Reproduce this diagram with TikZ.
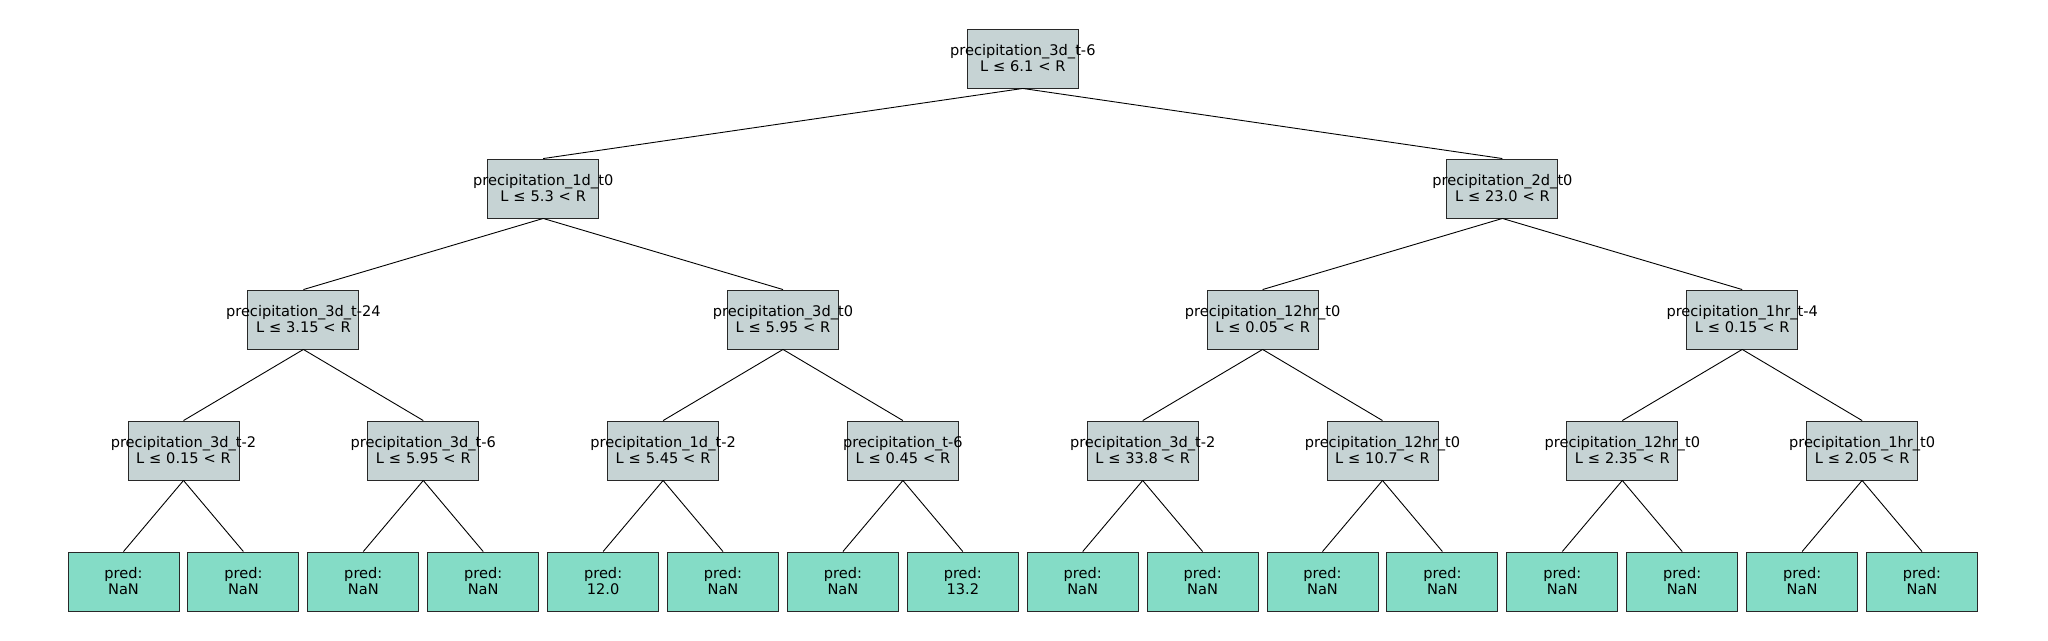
\documentclass[tikz,border=0pt]{standalone}
\usepackage{fontspec}
\setmainfont{DejaVu Sans}
\definecolor{splitc}{RGB}{198,211,212}
\definecolor{leafc}{RGB}{132,220,198}
\definecolor{edgec}{RGB}{40,40,40}
\tikzset{
  splitbox/.style={draw=edgec, fill=splitc, line width=0.9pt, minimum width=111pt, minimum height=59pt, inner sep=0pt, align=center, text width=111pt, font=\fontsize{14.6}{16}\selectfont},
  leafbox/.style={draw=edgec, fill=leafc, line width=0.9pt, minimum width=111pt, minimum height=59pt, inner sep=0pt, align=center, text width=111pt, font=\fontsize{14.6}{16}\selectfont},
  link/.style={draw=black, line width=0.9pt}
}
\newcommand{\spl}[2]{\makebox[0pt][c]{#1}\\#2}
\begin{document}
\begin{tikzpicture}[x=1pt,y=-1pt]
\useasboundingbox[fill=white] (0,0) rectangle (2048,640);
% root
\node[splitbox] (r) at (1022.8,58.5) {\spl{precipitation\_3d\_t-6}{L ≤ 6.1 < R}};
% level 1
\node[splitbox] (a0) at (543.2,188.5) {\spl{precipitation\_1d\_t0}{L ≤ 5.3 < R}};
\node[splitbox] (a1) at (1502.4,188.5) {\spl{precipitation\_2d\_t0}{L ≤ 23.0 < R}};
% level 2
\node[splitbox] (b0) at (303.4,319.5) {\spl{precipitation\_3d\_t-24}{L ≤ 3.15 < R}};
\node[splitbox] (b1) at (783.0,319.5) {\spl{precipitation\_3d\_t0}{L ≤ 5.95 < R}};
\node[splitbox] (b2) at (1262.6,319.5) {\spl{precipitation\_12hr\_t0}{L ≤ 0.05 < R}};
\node[splitbox] (b3) at (1742.2,319.5) {\spl{precipitation\_1hr\_t-4}{L ≤ 0.15 < R}};
% level 3
\node[splitbox] (c0) at (183.5,450.5) {\spl{precipitation\_3d\_t-2}{L ≤ 0.15 < R}};
\node[splitbox] (c1) at (423.3,450.5) {\spl{precipitation\_3d\_t-6}{L ≤ 5.95 < R}};
\node[splitbox] (c2) at (663.1,450.5) {\spl{precipitation\_1d\_t-2}{L ≤ 5.45 < R}};
\node[splitbox] (c3) at (902.9,450.5) {\spl{precipitation\_t-6}{L ≤ 0.45 < R}};
\node[splitbox] (c4) at (1142.7,450.5) {\spl{precipitation\_3d\_t-2}{L ≤ 33.8 < R}};
\node[splitbox] (c5) at (1382.5,450.5) {\spl{precipitation\_12hr\_t0}{L ≤ 10.7 < R}};
\node[splitbox] (c6) at (1622.3,450.5) {\spl{precipitation\_12hr\_t0}{L ≤ 2.35 < R}};
\node[splitbox] (c7) at (1862.1,450.5) {\spl{precipitation\_1hr\_t0}{L ≤ 2.05 < R}};
% leaves
\node[leafbox] (d0) at (123.5,581.5) {pred:\\NaN};
\node[leafbox] (d1) at (243.4,581.5) {pred:\\NaN};
\node[leafbox] (d2) at (363.3,581.5) {pred:\\NaN};
\node[leafbox] (d3) at (483.2,581.5) {pred:\\NaN};
\node[leafbox] (d4) at (603.1,581.5) {pred:\\12.0};
\node[leafbox] (d5) at (723.0,581.5) {pred:\\NaN};
\node[leafbox] (d6) at (842.9,581.5) {pred:\\NaN};
\node[leafbox] (d7) at (962.8,581.5) {pred:\\13.2};
\node[leafbox] (d8) at (1082.7,581.5) {pred:\\NaN};
\node[leafbox] (d9) at (1202.6,581.5) {pred:\\NaN};
\node[leafbox] (d10) at (1322.5,581.5) {pred:\\NaN};
\node[leafbox] (d11) at (1442.4,581.5) {pred:\\NaN};
\node[leafbox] (d12) at (1562.3,581.5) {pred:\\NaN};
\node[leafbox] (d13) at (1682.2,581.5) {pred:\\NaN};
\node[leafbox] (d14) at (1802.1,581.5) {pred:\\NaN};
\node[leafbox] (d15) at (1922.0,581.5) {pred:\\NaN};
% connectors
\draw[link] (r.south) -- (a0.north);
\draw[link] (r.south) -- (a1.north);
\draw[link] (a0.south) -- (b0.north);
\draw[link] (a0.south) -- (b1.north);
\draw[link] (a1.south) -- (b2.north);
\draw[link] (a1.south) -- (b3.north);
\draw[link] (b0.south) -- (c0.north);
\draw[link] (b0.south) -- (c1.north);
\draw[link] (b1.south) -- (c2.north);
\draw[link] (b1.south) -- (c3.north);
\draw[link] (b2.south) -- (c4.north);
\draw[link] (b2.south) -- (c5.north);
\draw[link] (b3.south) -- (c6.north);
\draw[link] (b3.south) -- (c7.north);
\draw[link] (c0.south) -- (d0.north);
\draw[link] (c0.south) -- (d1.north);
\draw[link] (c1.south) -- (d2.north);
\draw[link] (c1.south) -- (d3.north);
\draw[link] (c2.south) -- (d4.north);
\draw[link] (c2.south) -- (d5.north);
\draw[link] (c3.south) -- (d6.north);
\draw[link] (c3.south) -- (d7.north);
\draw[link] (c4.south) -- (d8.north);
\draw[link] (c4.south) -- (d9.north);
\draw[link] (c5.south) -- (d10.north);
\draw[link] (c5.south) -- (d11.north);
\draw[link] (c6.south) -- (d12.north);
\draw[link] (c6.south) -- (d13.north);
\draw[link] (c7.south) -- (d14.north);
\draw[link] (c7.south) -- (d15.north);
\end{tikzpicture}
\end{document}
